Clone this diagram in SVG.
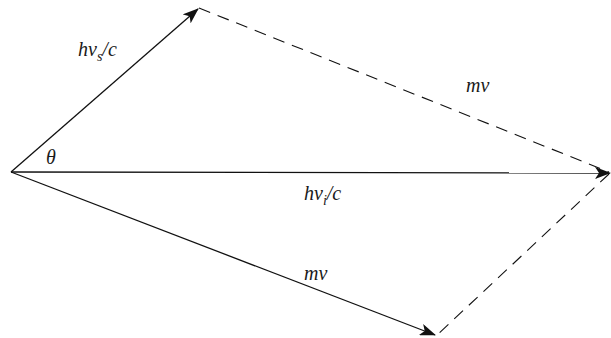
<svg xmlns="http://www.w3.org/2000/svg" width="611" height="338" viewBox="0 0 611 338">
<style>
.v{stroke:#111;stroke-width:1.3;fill:none}
.d{stroke:#111;stroke-width:1.1;fill:none;stroke-dasharray:12,8}
text{font-family:"Liberation Serif",serif;font-style:italic;font-size:20px;fill:#1a1a1a}
.sub{font-size:14px}
</style>
<defs>
<marker id="ah" markerWidth="16" markerHeight="12" refX="15" refY="6" orient="auto" markerUnits="userSpaceOnUse">
<path d="M0,0 L16,6 L0,12 L4,6 Z" fill="#111"/>
</marker>
</defs>
<rect width="611" height="338" fill="#fff"/>
<g id="connectors">
<line class="d" x1="199" y1="8" x2="609" y2="172"/>
<line class="d" x1="609" y1="174" x2="436" y2="336"/>
<line class="v" x1="11" y1="172" x2="198" y2="9" marker-end="url(#ah)"/>
<line class="v" x1="11" y1="172" x2="610" y2="173" marker-end="url(#ah)"/>
<line class="v" x1="11" y1="172" x2="435" y2="335" marker-end="url(#ah)"/>
</g>
<g id="labels">
<text x="78" y="56">hν<tspan class="sub" dy="5">s</tspan><tspan dy="-5">/c</tspan></text>
<text x="46" y="164">θ</text>
<text x="466" y="92">mv</text>
<text x="304" y="200">hν<tspan class="sub" dy="5">i</tspan><tspan dy="-5">/c</tspan></text>
<text x="304" y="280">mv</text>
</g>
</svg>
